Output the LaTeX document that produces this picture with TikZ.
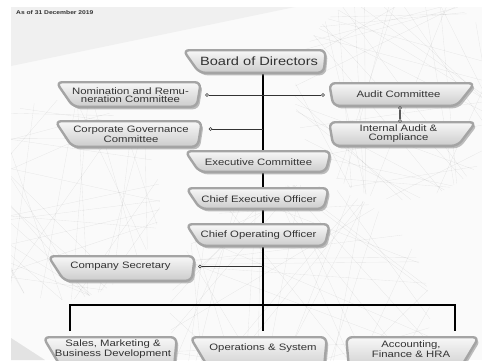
\documentclass[tikz,border=0pt]{standalone}
\usepackage{fontspec}
\setmainfont{Liberation Sans}[FakeStretch=1.22]
\usetikzlibrary{calc}
\pgfdeclarelayer{bg}\pgfdeclarelayer{conn}\pgfdeclarelayer{boxes}
\pgfsetlayers{bg,conn,boxes,main}
\definecolor{txt}{HTML}{333333}
\definecolor{frame}{HTML}{A4A4A4}
\definecolor{shade}{HTML}{8A8A8A}
\tikzset{
 boxframe/.style={inner sep=0, outer sep=0, draw=none, rectangle},
 boxtext/.style={align=center, text=txt, font=\fontsize{9.3}{8.6}\selectfont, inner sep=0},
 tabdraw/.style={draw=frame, line width=2.4pt, top color=white!97!black, bottom color=white!80!black, rounded corners=6pt},
 tabshadow/.style={fill=shade, opacity=0.55, rounded corners=6pt},
 trunk/.style={line width=2pt, line join=miter, black},
 thinline/.style={line width=0.6pt, black!80},
 dot/.style={circle, draw=black!80, fill=white, line width=0.5pt, inner sep=0, minimum size=3pt},
 mesh/.style={draw=black, opacity=0.07, line width=0.35pt},
}
\newcommand\tabbox[7]{%
 \node[boxframe, minimum width={(#4-#2-2.4)*1pt}, minimum height={(#5-#3-2.4)*1pt}] (#1) at ({(#2+#4)/2},{(#3+#5)/2}) {};
 \begin{pgfonlayer}{boxes}
 \fill[tabshadow] ($(#1.north west)+(2,2.5)$) -- ($(#1.north east)+(2,2.5)$) -- ($(#1.south east)+(2-#7,2.5)$) -- ($(#1.south west)+(2+#6,2.5)$) -- cycle;
 \draw[tabdraw] (#1.north west) -- (#1.north east) -- ($(#1.south east)+(-#7,0)$) -- ($(#1.south west)+(#6,0)$) -- cycle;
 \end{pgfonlayer}}
\newcommand\globe[4]{% cx, cy, r, count
 \foreach \k in {1,...,#4}{%
  \pgfmathsetmacro\aa{360*rnd}\pgfmathsetmacro\bb{\aa+60+120*rnd}%
  \draw[mesh] ({#1+#3*cos(\aa)},{#2+#3*sin(\aa)}) -- ({#1+#3*cos(\bb)},{#2+#3*sin(\bb)});}}
\begin{document}
\begin{tikzpicture}[x=1pt,y=-1pt]
\useasboundingbox (0,0) rectangle (482,360);
\begin{pgfonlayer}{bg}
\fill[white] (0,0) rectangle (482,360);
\fill[gray!4] (11,7) rectangle (482,360);
\fill[gray!12] (11,7) -- (295,7) -- (11,66) -- cycle;
\begin{scope}
\clip (11,7) rectangle (482,360);
\pgfmathsetseed{11}
\globe{400}{95}{105}{40}
\globe{60}{200}{100}{40}
\globe{300}{315}{130}{45}
\end{scope}
\fill[gray!22] (11,338) -- (45,360) -- (11,360) -- cycle;
\end{pgfonlayer}
\node[anchor=west, font=\bfseries\fontsize{5.5}{6}\selectfont, inner sep=0, text=txt] (asof) at (16,13) {As of 31 December 2019};

\tabbox{bod}{182}{49}{327}{74}{16}{2}
\tabbox{nom}{55}{81}{202}{108}{17}{4}
\tabbox{aud}{328}{82}{476}{107}{4}{18}
\tabbox{ia}{328}{121}{477}{147}{4}{18}
\tabbox{cg}{54}{120}{203}{148}{17}{4}
\tabbox{exe}{184}{150}{332}{173}{14}{5}
\tabbox{ceo}{185}{187}{330}{210}{14}{5}
\tabbox{coo}{185}{223}{331}{247}{14}{5}
\tabbox{sec}{47}{255}{196}{282}{16}{3}
\tabbox{sal}{42}{336}{178}{372}{20}{3}
\tabbox{ops}{189}{336}{328}{372}{20}{3}
\tabbox{acc}{345}{336}{480}{372}{3}{20}

\node[boxtext, font=\fontsize{12}{12}\selectfont] (bod-t) at (259,61.5) {Board of Directors};
\node[boxtext] (nom-t) at (130.5,95) {Nomination and Remu-\\neration Committee};
\node[boxtext] (aud-t) at (398.5,94) {Audit Committee};
\node[boxtext] (ia-t) at (398.5,133.5) {Internal Audit \&\\Compliance};
\node[boxtext] (cg-t) at (131,134) {Corporate Governance\\Committee};
\node[boxtext] (exe-t) at (258.5,162) {Executive Committee};
\node[boxtext] (ceo-t) at (259,199) {Chief Executive Officer};
\node[boxtext] (coo-t) at (258.5,235) {Chief Operating Officer};
\node[boxtext] (sec-t) at (120.5,266.5) {Company Secretary};
\node[boxtext] (sal-t) at (113,349) {Sales, Marketing \&\\Business Development};
\node[boxtext] (ops-t) at (263,348.5) {Operations \& System};
\node[boxtext] (acc-t) at (411,349) {Accounting,\\Finance \& HRA};

\coordinate (busC) at (263,305);
\coordinate (busL) at (70,305);
\coordinate (busR) at (455,305);
\coordinate (dropL) at (70,331);
\coordinate (dropC) at (263,331);
\coordinate (dropR) at (455,331);
\node[dot] (d1) at (207,95) {};
\node[dot] (d2) at (323,95) {};
\node[dot] (d3) at (210.5,129) {};
\node[dot] (d4) at (200,266.5) {};
\node[dot] (d5) at (400,108) {};
\node[dot] (d6) at (400,121) {};
\begin{pgfonlayer}{conn}
\draw[trunk] (bod.south -| busC) -- (busC);
\draw[trunk] (dropL) -- (busL) -- (busR) -- (dropR);
\draw[trunk] (busC) -- (dropC);
\draw[thinline] (d1) -- (d2);
\draw[thinline] (d3) -- (d3 -| busC);
\draw[thinline] (d4) -- (d4 -| busC);
\draw[gray!70!black, line width=1.2pt] (d5) -- (d6);
\end{pgfonlayer}
\end{tikzpicture}
\end{document}
